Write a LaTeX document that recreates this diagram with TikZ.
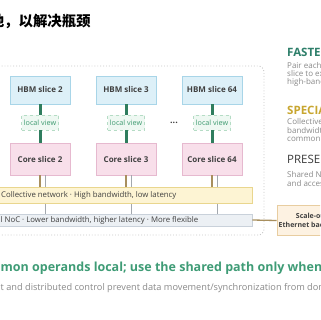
\documentclass[tikz,border=0pt]{standalone}
\usepackage{fontspec}
\setmainfont{Open Sans}
\newfontfamily\cjk{Noto Sans CJK SC}
\definecolor{hbmfill}{HTML}{DDF0F8}
\definecolor{hbmdraw}{HTML}{A8D5E8}
\definecolor{corefill}{HTML}{F8DFEA}
\definecolor{coredraw}{HTML}{E6B9CF}
\definecolor{lvfill}{HTML}{EEF8F2}
\definecolor{lvdraw}{HTML}{B5DCC5}
\definecolor{lvtext}{HTML}{3E9A70}
\definecolor{linkc}{HTML}{2F7D5E}
\definecolor{colfill}{HTML}{FDF4D3}
\definecolor{coldraw}{HTML}{E9D68E}
\definecolor{nocfill}{HTML}{ECF0F4}
\definecolor{nocdraw}{HTML}{C9D1DA}
\definecolor{tanc}{HTML}{A88F5E}
\definecolor{grayc}{HTML}{A3A8AE}
\definecolor{scfill}{HTML}{FDF2E2}
\definecolor{scdraw}{HTML}{E8CDA0}
\definecolor{framec}{HTML}{C8C8C8}
\definecolor{tealh}{HTML}{2E7F6A}
\definecolor{goldh}{HTML}{C8A630}
\definecolor{darkh}{HTML}{3A3A3A}
\definecolor{bodyc}{HTML}{8A8A8A}
\definecolor{headc}{HTML}{3F9C76}
\definecolor{txtc}{HTML}{404040}
\tikzset{
  hbm/.style={draw=hbmdraw, fill=hbmfill, line width=0.8pt, minimum width=60pt, minimum height=28pt, inner sep=0pt, font=\fontsize{8}{9}\selectfont\bfseries, text=txtc},
  core/.style={draw=coredraw, fill=corefill, line width=0.8pt, minimum width=60pt, minimum height=32pt, inner sep=0pt, font=\fontsize{8}{9}\selectfont\bfseries, text=txtc},
  lv/.style={draw=lvdraw, fill=lvfill, line width=0.6pt, dashed, minimum width=37pt, minimum height=15pt, inner sep=0pt, font=\fontsize{7.2}{8}\selectfont, text=lvtext},
  linkline/.style={draw=linkc, line width=3pt},
  tanline/.style={draw=tanc, line width=1.1pt},
  grayline/.style={draw=grayc, line width=0.9pt},
  colbar/.style={draw=coldraw, fill=colfill, line width=0.8pt, minimum width=332pt, minimum height=16pt, inner sep=0pt},
  nocbar/.style={draw=nocdraw, fill=nocfill, line width=0.8pt, minimum width=332pt, minimum height=12pt, inner sep=0pt},
  bartext/.style={font=\fontsize{7.8}{9}\selectfont, text=txtc, inner sep=0pt, anchor=base west},
  scbox/.style={draw=scdraw, fill=scfill, line width=0.8pt, minimum width=70pt, minimum height=30pt, inner sep=0pt, align=center, font=\fontsize{7}{9}\selectfont\bfseries, text=txtc},
  sidehead/.style={font=\fontsize{11.5}{13}\selectfont\bfseries, inner sep=0pt, anchor=base west},
  sidebody/.style={font=\fontsize{8}{9}\selectfont, text=bodyc, inner sep=0pt, anchor=base west},
  framebox/.style={draw=framec, dotted, line width=0.9pt, rounded corners=6pt}
}
\begin{document}
\begin{tikzpicture}[x=1pt,y=-1pt]
\useasboundingbox (0,0) rectangle (320,320);
\clip (0,0) rectangle (320,320);
\fill[white] (0,0) rectangle (320,320);
% title
\node[inner sep=0pt, anchor=base west, font=\cjk\fontsize{14.4}{16}\selectfont\bfseries, text=black] (title) at (4,27) {\llap{本地}，以解决瓶颈};
% outer frame
\draw[framebox] (-10,66) -- (264,66) -- (264,235) -- (-10,235);
% slices
\node[hbm] (h2) at (40,90) {HBM slice 2};
\node[hbm] (h3) at (126,90) {HBM slice 3};
\node[hbm] (h64) at (212,90) {HBM slice 64};
\node[lv] (l2) at (40,122.5) {local view};
\node[lv] (l3) at (126,122.5) {local view};
\node[lv] (l64) at (212,122.5) {local view};
\node[core] (c2) at (40,159) {Core slice 2};
\node[core] (c3) at (126,159) {Core slice 3};
\node[core] (c64) at (212,159) {Core slice 64};
\node[font=\fontsize{9}{10}\selectfont\bfseries, text=txtc, inner sep=0pt] (dots) at (174,123) {...};
\foreach \s in {2,3,64}{
  \draw[linkline] (h\s) -- (l\s);
  \draw[linkline] (l\s) -- (c\s);
}
% buses
\node[nocbar] (noc) at (86,220) {};
\foreach \s in {2,3,64}{
  \draw[grayline] ([xshift=5pt]c\s.south) -- ([xshift=5pt]c\s.south |- noc.north);
}
\node[colbar] (col) at (86,195) {};
\foreach \s in {2,3,64}{
  \draw[tanline] (c\s.south) -- (c\s.south |- col.north);
}
\node[bartext] (coltxt) at (1,197.8) {Collective network · High bandwidth, low latency};
\node[bartext] (noctxt) at (0.5,222.8) {\llap{Globa}l NoC · Lower bandwidth, higher latency · More flexible};
% scale-out
\node[scbox] (so) at (312,220.5) {Scale-out\\Ethernet backbone};
\draw[tanc, line width=1.3pt] (noc.east) -- (so.west);
% side panel
\node[sidehead, text=tealh] (fast) at (287,56.5) {FASTEST};
\node[sidebody] (f1) at (287,68.8) {Pair each core};
\node[sidebody] (f2) at (287,77) {slice to exclusive};
\node[sidebody] (f3) at (287,84.8) {high-bandwidth};
\node[sidehead, text=goldh] (spec) at (287,114.5) {SPECIALIZED};
\node[sidebody] (s1) at (287,124.8) {Collective};
\node[sidebody] (s2) at (287,133.2) {bandwidth};
\node[sidebody] (s3) at (287,141.8) {common};
\node[sidehead, text=darkh, font=\fontsize{11.5}{13}\selectfont] (pres) at (287,163.5) {PRESERVED};
\node[sidebody] (p1) at (287,177.2) {Shared NoC};
\node[sidebody] (p2) at (287,186.2) {and access};
% bottom text
\node[inner sep=0pt, anchor=base west, font=\fontsize{12.5}{14}\selectfont\bfseries, text=headc] (head) at (0.5,271) {\llap{Keep com}mon operands local; use the shared path only when needed};
\node[inner sep=0pt, anchor=base west, font=\fontsize{9.2}{11}\selectfont, text=bodyc] (sub) at (0.5,290) {\llap{Local placemen}t and distributed control prevent data movement/synchronization from dominating};
\end{tikzpicture}
\end{document}
